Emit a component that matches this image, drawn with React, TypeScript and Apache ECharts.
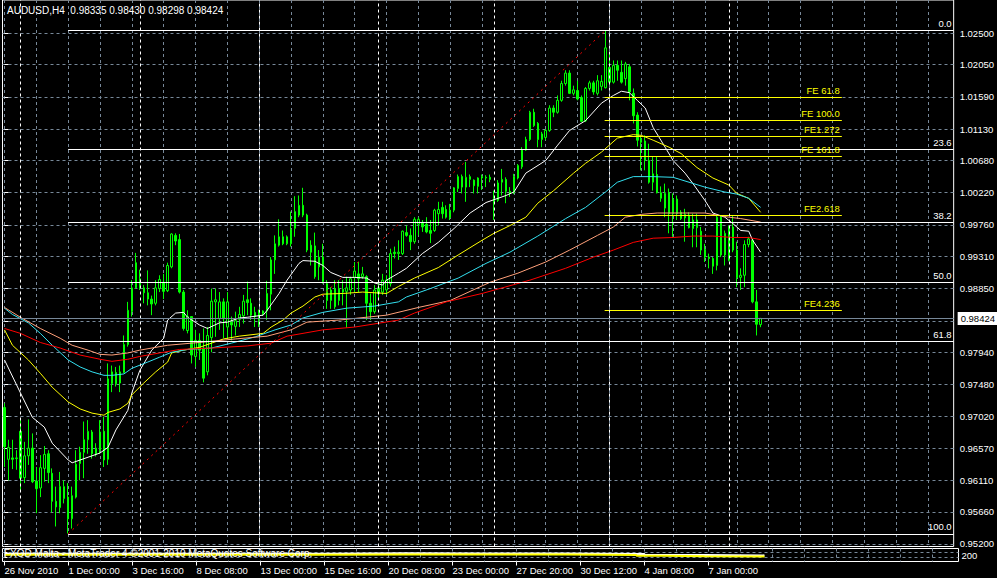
import React, { useEffect, useRef } from "react";
import * as echarts from "echarts";

// ---------- text ----------
const titleText = "AUDUSD,H4  0.98335 0.98430 0.98298 0.98424";
const subWindowText = "FXOD Malta - MetaTrader 4 \u00a92001-2010 MetaQuotes Software Corp.";
const subAxisLabel = "200";

// ---------- time axis ----------
const timeLabels = [
  "26 Nov 2010", "1 Dec 00:00", "3 Dec 16:00", "8 Dec 08:00", "13 Dec 00:00", "15 Dec 16:00",
  "20 Dec 08:00", "23 Dec 00:00", "27 Dec 20:00", "30 Dec 12:00", "4 Jan 08:00", "7 Jan 00:00",
];
const timeLabelBars = [0, 16, 32, 48, 64, 80, 96, 112, 128, 144, 160, 176];
const gridBars = [0, 8, 16, 24, 32, 40, 48, 56, 64, 72, 80, 88, 96, 104, 112, 120, 128, 136, 144, 152, 160, 168, 176, 184, 192, 200, 208, 216, 224, 232];
const weekSeparatorBars = [4, 34, 64, 94, 123, 152, 182];
const BAR_MIN = -0.5;
const BAR_MAX = 238.5;

// ---------- price axis ----------
const priceLabels = [0.952, 0.9566, 0.9611, 0.9657, 0.9702, 0.9748, 0.9794, 0.9885, 0.9931, 0.9976, 1.0022, 1.0068, 1.0113, 1.0159, 1.0205, 1.025];
const priceGrid = [0.952, 0.9566, 0.9611, 0.9657, 0.9702, 0.9748, 0.9794, 0.9839, 0.9885, 0.9931, 0.9976, 1.0022, 1.0068, 1.0113, 1.0159, 1.0205, 1.025];
const PRICE_MIN = 0.95164;
const PRICE_MAX = 1.02974;
const lastPrice = 0.98424;

// ---------- candles: [open, high, low, close] ----------
const candles: number[][] = [
  [0.9715, 0.9721, 0.9630, 0.9659], [0.9641, 0.9669, 0.9611, 0.9658], [0.9643, 0.9669, 0.9627, 0.9641], [0.9642, 0.9654, 0.9626, 0.9643],
  [0.9681, 0.9697, 0.9597, 0.9614], [0.9615, 0.9666, 0.9607, 0.9646], [0.9646, 0.9698, 0.9633, 0.9657], [0.9657, 0.9678, 0.9607, 0.9609],
  [0.9610, 0.9630, 0.9564, 0.9599], [0.9600, 0.9647, 0.9587, 0.9629], [0.9628, 0.9660, 0.9609, 0.9648], [0.9649, 0.9654, 0.9607, 0.9622],
  [0.9621, 0.9628, 0.9565, 0.9581], [0.9581, 0.9602, 0.9545, 0.9573], [0.9572, 0.9623, 0.9564, 0.9602], [0.9585, 0.9611, 0.9578, 0.9602],
  [0.9587, 0.9607, 0.9535, 0.9556], [0.9556, 0.9602, 0.9542, 0.9589], [0.9587, 0.9654, 0.9585, 0.9634], [0.9635, 0.9659, 0.9611, 0.9651],
  [0.9651, 0.9695, 0.9614, 0.9669], [0.9669, 0.9697, 0.9649, 0.9681], [0.9680, 0.9683, 0.9642, 0.9649], [0.9648, 0.9664, 0.9645, 0.9657],
  [0.9654, 0.9697, 0.9649, 0.9680], [0.9681, 0.9702, 0.9630, 0.9640], [0.9641, 0.9778, 0.9633, 0.9756], [0.9749, 0.9775, 0.9737, 0.9766],
  [0.9765, 0.9773, 0.9745, 0.9749], [0.9750, 0.9775, 0.9737, 0.9766], [0.9765, 0.9818, 0.9764, 0.9805], [0.9805, 0.9866, 0.9802, 0.9854],
  [0.9852, 0.9897, 0.9845, 0.9886], [0.9886, 0.9936, 0.9885, 0.9922], [0.9899, 0.9912, 0.9883, 0.9885], [0.9886, 0.9890, 0.9864, 0.9879],
  [0.9879, 0.9911, 0.9861, 0.9870], [0.9870, 0.9875, 0.9847, 0.9863], [0.9864, 0.9897, 0.9861, 0.9886], [0.9885, 0.9904, 0.9880, 0.9898],
  [0.9894, 0.9906, 0.9870, 0.9881], [0.9882, 0.9922, 0.9880, 0.9918], [0.9916, 0.9964, 0.9914, 0.9963], [0.9961, 0.9964, 0.9947, 0.9953],
  [0.9955, 0.9963, 0.9878, 0.9880], [0.9880, 0.9883, 0.9825, 0.9828], [0.9825, 0.9854, 0.9821, 0.9845], [0.9845, 0.9845, 0.9778, 0.9790],
  [0.9788, 0.9826, 0.9773, 0.9811], [0.9811, 0.9821, 0.9783, 0.9797], [0.9800, 0.9828, 0.9751, 0.9757], [0.9766, 0.9830, 0.9761, 0.9818],
  [0.9815, 0.9885, 0.9794, 0.9867], [0.9866, 0.9885, 0.9816, 0.9869], [0.9842, 0.9880, 0.9826, 0.9866], [0.9866, 0.9871, 0.9814, 0.9842],
  [0.9830, 0.9880, 0.9814, 0.9866], [0.9837, 0.9845, 0.9811, 0.9833], [0.9831, 0.9852, 0.9818, 0.9839], [0.9841, 0.9859, 0.9830, 0.9848],
  [0.9846, 0.9876, 0.9835, 0.9867], [0.9869, 0.9895, 0.9847, 0.9865], [0.9864, 0.9871, 0.9840, 0.9847], [0.9851, 0.9859, 0.9830, 0.9845],
  [0.9840, 0.9855, 0.9830, 0.9850], [0.9849, 0.9854, 0.9846, 0.9853], [0.9853, 0.9896, 0.9840, 0.9878], [0.9877, 0.9930, 0.9854, 0.9926],
  [0.9926, 0.9961, 0.9906, 0.9949], [0.9947, 0.9984, 0.9945, 0.9959], [0.9959, 0.9968, 0.9947, 0.9949], [0.9949, 0.9961, 0.9947, 0.9959],
  [0.9949, 0.9995, 0.9945, 0.9969], [0.9971, 1.0017, 0.9959, 0.9995], [0.9990, 1.0018, 0.9987, 1.0004], [1.0004, 1.0029, 0.9987, 0.9990],
  [0.9990, 0.9992, 0.9937, 0.9940], [0.9947, 0.9954, 0.9918, 0.9937], [0.9946, 0.9965, 0.9899, 0.9902], [0.9916, 0.9940, 0.9897, 0.9930],
  [0.9930, 0.9949, 0.9892, 0.9895], [0.9892, 0.9897, 0.9856, 0.9868], [0.9868, 0.9887, 0.9856, 0.9883], [0.9885, 0.9897, 0.9856, 0.9859],
  [0.9868, 0.9897, 0.9861, 0.9885], [0.9884, 0.9897, 0.9861, 0.9880], [0.9881, 0.9902, 0.9829, 0.9886], [0.9883, 0.9902, 0.9876, 0.9899],
  [0.9901, 0.9923, 0.9880, 0.9910], [0.9906, 0.9923, 0.9880, 0.9899], [0.9902, 0.9916, 0.9899, 0.9906], [0.9902, 0.9904, 0.9840, 0.9864],
  [0.9864, 0.9878, 0.9840, 0.9852], [0.9852, 0.9890, 0.9849, 0.9883], [0.9886, 0.9897, 0.9871, 0.9878], [0.9880, 0.9906, 0.9876, 0.9897],
  [0.9883, 0.9904, 0.9876, 0.9897], [0.9892, 0.9942, 0.9888, 0.9935], [0.9937, 0.9945, 0.9928, 0.9935], [0.9935, 0.9954, 0.9926, 0.9937],
  [0.9935, 0.9968, 0.9933, 0.9967], [0.9965, 0.9975, 0.9959, 0.9961], [0.9961, 0.9971, 0.9940, 0.9952], [0.9952, 0.9987, 0.9949, 0.9984],
  [0.9977, 0.9987, 0.9961, 0.9984], [0.9979, 0.9983, 0.9966, 0.9973], [0.9977, 0.9987, 0.9964, 0.9966], [0.9968, 0.9983, 0.9950, 0.9964],
  [0.9968, 0.9999, 0.9966, 0.9997], [0.9992, 1.0009, 0.9975, 0.9998], [1.0001, 1.0009, 0.9985, 0.9992], [0.9998, 1.0004, 0.9985, 0.9987],
  [0.9986, 1.0006, 0.9983, 0.9997], [0.9997, 1.0030, 0.9994, 1.0029], [1.0028, 1.0048, 1.0023, 1.0045], [1.0045, 1.0048, 1.0021, 1.0030],
  [1.0030, 1.0066, 1.0009, 1.0044], [1.0041, 1.0048, 1.0030, 1.0045], [1.0040, 1.0041, 1.0021, 1.0032], [1.0031, 1.0044, 1.0021, 1.0043],
  [1.0043, 1.0048, 1.0026, 1.0045], [1.0044, 1.0047, 1.0030, 1.0043], [1.0044, 1.0048, 1.0037, 1.0041], [1.0007, 1.0025, 0.9983, 1.0014],
  [1.0011, 1.0040, 1.0009, 1.0036], [1.0037, 1.0056, 1.0018, 1.0041], [1.0041, 1.0044, 1.0007, 1.0024], [1.0024, 1.0030, 1.0016, 1.0021],
  [1.0022, 1.0049, 1.0020, 1.0045], [1.0043, 1.0063, 1.0041, 1.0061], [1.0059, 1.0087, 1.0056, 1.0083], [1.0083, 1.0102, 1.0082, 1.0098],
  [1.0098, 1.0139, 1.0096, 1.0137], [1.0137, 1.0142, 1.0116, 1.0118], [1.0121, 1.0123, 1.0087, 1.0098], [1.0098, 1.0109, 1.0087, 1.0106],
  [1.0101, 1.0113, 1.0097, 1.0111], [1.0111, 1.0147, 1.0109, 1.0143], [1.0143, 1.0147, 1.0130, 1.0137], [1.0137, 1.0161, 1.0135, 1.0154],
  [1.0154, 1.0182, 1.0152, 1.0178], [1.0178, 1.0197, 1.0175, 1.0193], [1.0193, 1.0197, 1.0163, 1.0164], [1.0164, 1.0175, 1.0161, 1.0169],
  [1.0168, 1.0182, 1.0154, 1.0156], [1.0158, 1.0161, 1.0123, 1.0124], [1.0125, 1.0173, 1.0123, 1.0171], [1.0171, 1.0182, 1.0168, 1.0179],
  [1.0179, 1.0182, 1.0162, 1.0166], [1.0164, 1.0190, 1.0161, 1.0182], [1.0174, 1.0190, 1.0168, 1.0181], [1.0172, 1.0254, 1.0171, 1.0229],
  [1.0201, 1.0223, 1.0178, 1.0180], [1.0180, 1.0211, 1.0178, 1.0204], [1.0204, 1.0211, 1.0182, 1.0197], [1.0194, 1.0211, 1.0178, 1.0180],
  [1.0185, 1.0209, 1.0175, 1.0206], [1.0202, 1.0206, 1.0154, 1.0166], [1.0164, 1.0171, 1.0121, 1.0132], [1.0133, 1.0137, 1.0088, 1.0097],
  [1.0094, 1.0102, 1.0054, 1.0099], [1.0096, 1.0104, 1.0054, 1.0068], [1.0068, 1.0092, 1.0035, 1.0037], [1.0037, 1.0074, 1.0025, 1.0049],
  [1.0048, 1.0074, 1.0021, 1.0022], [1.0014, 1.0031, 1.0009, 1.0022], [1.0000, 1.0035, 0.9987, 1.0021], [1.0022, 1.0028, 0.9964, 0.9992],
  [0.9992, 1.0021, 0.9959, 1.0013], [1.0013, 1.0018, 0.9983, 0.9992], [0.9994, 0.9997, 0.9983, 0.9985], [0.9991, 0.9999, 0.9952, 0.9986],
  [0.9972, 0.9994, 0.9971, 0.9990], [0.9983, 0.9992, 0.9944, 0.9971], [0.9972, 0.9992, 0.9944, 0.9983], [0.9967, 0.9973, 0.9933, 0.9940],
  [0.9941, 0.9949, 0.9923, 0.9930], [0.9930, 0.9935, 0.9914, 0.9928], [0.9928, 0.9930, 0.9906, 0.9917], [0.9918, 0.9990, 0.9911, 0.9987],
  [0.9987, 0.9990, 0.9930, 0.9933], [0.9933, 0.9968, 0.9918, 0.9964], [0.9925, 0.9975, 0.9924, 0.9973], [0.9973, 0.9990, 0.9937, 0.9940],
  [0.9940, 0.9952, 0.9887, 0.9901], [0.9901, 0.9914, 0.9883, 0.9904], [0.9904, 0.9954, 0.9887, 0.9948], [0.9948, 0.9959, 0.9944, 0.9956],
  [0.9954, 0.9956, 0.9864, 0.9866], [0.9866, 0.9883, 0.9818, 0.9834], [0.98335, 0.98430, 0.98298, 0.98424],
];

// ---------- moving averages: [bar, price] ----------
const maWhite: number[][] = [
  [0, 0.9783], [4, 0.9736], [7, 0.9701], [10, 0.9687], [12, 0.9664], [16, 0.9640], [17, 0.9636], [21, 0.9644], [24, 0.9650],
  [26, 0.9658], [28, 0.9683], [31, 0.9711], [32, 0.9736], [34, 0.9768], [37, 0.9797], [40, 0.9814], [41, 0.9840], [43, 0.9850],
  [45, 0.9851], [46, 0.9844], [49, 0.9833], [51, 0.9828], [54, 0.9836], [56, 0.9837], [59, 0.9843], [61, 0.9844], [65, 0.9847],
  [66, 0.9854], [69, 0.9878], [71, 0.9897], [74, 0.9921], [75, 0.9925], [78, 0.9924], [80, 0.9918], [82, 0.9908], [85, 0.9901],
  [88, 0.9901], [91, 0.9900], [93, 0.9893], [95, 0.9890], [96, 0.9897], [99, 0.9907], [101, 0.9914], [105, 0.9935], [109, 0.9951],
  [113, 0.9971], [117, 0.9993], [121, 1.0008], [126, 1.0018], [128, 1.0023], [131, 1.0050], [136, 1.0068], [139, 1.0090],
  [142, 1.0111], [146, 1.0125], [150, 1.0150], [153, 1.0161], [155, 1.0167], [157, 1.0165], [159, 1.0154], [161, 1.0143],
  [163, 1.0115], [166, 1.0087], [168, 1.0068], [171, 1.0050], [173, 1.0035], [176, 1.0011], [178, 0.9993], [181, 0.9987],
  [183, 0.9978], [185, 0.9968], [187, 0.9967], [188, 0.9954], [190, 0.9937],
];
const maYellow: number[][] = [
  [0, 0.9826], [2, 0.9804], [6, 0.9783], [9, 0.9764], [12, 0.9744], [16, 0.9723], [19, 0.9713], [22, 0.9707], [25, 0.9704],
  [26, 0.9708], [29, 0.9713], [31, 0.9721], [32, 0.9733], [35, 0.9750], [38, 0.9766], [41, 0.9780], [42, 0.9793], [45, 0.9797],
  [46, 0.9798], [49, 0.9801], [55, 0.9813], [59, 0.9817], [65, 0.9821], [67, 0.9830], [70, 0.9840], [72, 0.9850], [75, 0.9860],
  [78, 0.9873], [80, 0.9877], [85, 0.9878], [90, 0.9880], [96, 0.9878], [99, 0.9888], [103, 0.9900], [109, 0.9915],
  [114, 0.9933], [120, 0.9954], [123, 0.9964], [127, 0.9975], [131, 0.9987], [134, 1.0007], [138, 1.0025], [143, 1.0050],
  [146, 1.0064], [150, 1.0080], [154, 1.0100], [158, 1.0105], [160, 1.0104], [163, 1.0097], [167, 1.0087], [170, 1.0078],
  [174, 1.0058], [178, 1.0043], [182, 1.0033], [184, 1.0021], [187, 1.0014], [190, 0.9994],
];
const maCyan: number[][] = [
  [0, 0.9857], [2, 0.9848], [6, 0.9836], [9, 0.9821], [12, 0.9804], [16, 0.9783], [19, 0.9773], [22, 0.9766], [25, 0.9761],
  [27, 0.9761], [30, 0.9763], [32, 0.9771], [36, 0.9780], [39, 0.9787], [42, 0.9794], [46, 0.9798], [52, 0.9800], [57, 0.9807],
  [63, 0.9816], [68, 0.9826], [72, 0.9833], [75, 0.9843], [80, 0.9851], [86, 0.9857], [93, 0.9860], [99, 0.9866], [101, 0.9873],
  [107, 0.9885], [114, 0.9900], [121, 0.9921], [127, 0.9937], [134, 0.9960], [141, 0.9985], [146, 1.0001], [151, 1.0023],
  [154, 1.0037], [158, 1.0045], [163, 1.0045], [168, 1.0044], [172, 1.0037], [176, 1.0030], [181, 1.0023], [184, 1.0020],
  [187, 1.0014], [190, 1.0001],
];
const maSalmon: number[][] = [
  [0, 0.9858], [4, 0.9844], [9, 0.9828], [14, 0.9814], [17, 0.9804], [21, 0.9797], [24, 0.9791], [27, 0.9790], [31, 0.9793],
  [34, 0.9797], [41, 0.9804], [49, 0.9808], [58, 0.9813], [66, 0.9817], [72, 0.9826], [76, 0.9837], [84, 0.9840], [96, 0.9847],
  [104, 0.9858], [112, 0.9868], [122, 0.9894], [129, 0.9907], [136, 0.9923], [142, 0.9940], [149, 0.9961], [153, 0.9973],
  [156, 0.9987], [160, 0.9991], [164, 0.9993], [169, 0.9993], [176, 0.9993], [182, 0.9987], [185, 0.9985], [190, 0.9980],
];
const maRed: number[][] = [
  [0, 0.9828], [4, 0.9821], [9, 0.9808], [14, 0.9800], [19, 0.9790], [24, 0.9784], [27, 0.9781], [31, 0.9784], [34, 0.9788],
  [39, 0.9793], [44, 0.9798], [52, 0.9800], [61, 0.9803], [67, 0.9807], [71, 0.9817], [80, 0.9826], [88, 0.9830], [99, 0.9840],
  [103, 0.9850], [111, 0.9866], [120, 0.9878], [132, 0.9897], [141, 0.9914], [148, 0.9930], [153, 0.9940], [158, 0.9951],
  [163, 0.9957], [168, 0.9958], [173, 0.9960], [178, 0.9960], [183, 0.9958], [187, 0.9958], [190, 0.9955],
];

// ---------- Fibonacci objects ----------
const fibLowBar = 16;
const fibHighBar = 151;
const fibLow = 0.95345;
const fibHigh = 1.0254;
const fibRatios = [0, 23.6, 38.2, 50, 61.8, 100];
const feLabels = ["FE 61.8", "FE 100.0", "FE1.272", "FE 161.8", "FE2.618", "FE4.236"];
const feLevels = [1.01586, 1.01254, 1.01025, 1.00735, 0.99893, 0.98541];
const feStartBar = 150.8;
const feEndBar = 210.4;

// ---------- sub window indicator ----------
const subWhite: number[][] = [
  [0, 60], [60, 60], [80, 63], [100, 62], [120, 62], [140, 60], [150, 57], [160, 50], [175, 47], [190, 47],
];
const subYellow: number[][] = [
  [0, 52], [20, 52], [40, 51], [60, 51], [80, 53], [100, 53], [120, 53], [140, 52], [150, 50], [158, 44], [165, 40], [175, 38], [190, 38],
];

const FONT = "Liberation Sans, Arial, sans-serif";

export default function App() {
  const ref = useRef<HTMLDivElement>(null);
  useEffect(() => {
    if (!ref.current) return;
    const chart = echarts.init(ref.current, undefined, { renderer: "svg" });

    const candleData = candles.map((c, i) => [i, c[0], c[3], c[2], c[1]]);
    const fibRange = fibHigh - fibLow;

    const markData: any[] = [];
    fibRatios.forEach((r) => {
      const v = fibHigh - (r / 100) * fibRange;
      markData.push([
        {
          coord: [fibLowBar, v],
          lineStyle: { color: "#ffffff", type: "solid", width: 1 },
          label: { show: true, position: "insideEndTop", formatter: r.toFixed(1), color: "#ffffff", fontSize: 9.5, fontFamily: FONT, distance: 2 },
        },
        { coord: [BAR_MAX, v] },
      ]);
    });
    feLevels.forEach((v, k) => {
      markData.push([
        {
          coord: [feStartBar, v],
          lineStyle: { color: "#ffff00", type: "solid", width: 1 },
          label: { show: true, position: "insideEndTop", formatter: feLabels[k], color: "#ffff00", fontSize: 9.5, fontFamily: FONT, distance: 2 },
        },
        { coord: [feEndBar, v] },
      ]);
    });
    markData.push([
      { coord: [fibLowBar, fibLow], lineStyle: { color: "#ff0000", type: [2, 4], width: 1 }, label: { show: false } },
      { coord: [fibHighBar, fibHigh] },
    ]);
    weekSeparatorBars.forEach((b) => {
      markData.push({ xAxis: b, lineStyle: { color: "#ffffff", type: [3, 3], width: 1 }, label: { show: false } });
    });
    markData.push({
      yAxis: lastPrice,
      lineStyle: { color: "#778899", type: "solid", width: 1 },
      label: {
        show: true,
        position: "end",
        formatter: lastPrice.toFixed(5),
        color: "#000000",
        backgroundColor: "#ffffff",
        padding: [2, 4, 1, 3],
        fontSize: 9.5,
        fontFamily: FONT,
        distance: 4,
      },
    });

    const maSeries = (name: string, data: number[][], color: string) => ({
      name,
      type: "line",
      xAxisIndex: 0,
      yAxisIndex: 0,
      data,
      showSymbol: false,
      symbol: "none",
      lineStyle: { color, width: 1 },
      silent: true,
      z: 3,
    });

    const option: any = {
      animation: false,
      backgroundColor: "#000000",
      grid: [
        { left: 2.5, right: 38.5, top: -0.5, height: 547, show: true, borderColor: "#ffffff", borderWidth: 1, backgroundColor: "transparent" },
        { left: 2.5, right: 38.5, top: 548.5, height: 13, show: true, borderColor: "#ffffff", borderWidth: 1, backgroundColor: "transparent" },
      ],
      xAxis: [
        {
          type: "value", gridIndex: 0, min: BAR_MIN, max: BAR_MAX,
          axisLine: { show: false }, axisTick: { show: false, customValues: gridBars }, axisLabel: { show: false },
          splitLine: { show: true, lineStyle: { color: "#778899", type: [3, 3], width: 1 } },
        },
        {
          type: "value", gridIndex: 1, min: BAR_MIN, max: BAR_MAX,
          axisLine: { show: false }, axisTick: { show: false, customValues: gridBars }, axisLabel: { show: false },
          splitLine: { show: true, lineStyle: { color: "#778899", type: [3, 3], width: 1 } },
        },
        {
          type: "value", gridIndex: 1, min: BAR_MIN, max: BAR_MAX, position: "bottom",
          axisLine: { show: false },
          axisTick: { show: true, customValues: timeLabelBars, length: 4, lineStyle: { color: "#ffffff" } },
          axisLabel: {
            show: true, customValues: timeLabelBars, color: "#ffffff", fontSize: 9.5, fontFamily: FONT, align: "left", margin: 4,
            formatter: (v: number) => {
              const k = timeLabelBars.indexOf(Math.round(v));
              return k >= 0 ? timeLabels[k] : "";
            },
          },
          splitLine: { show: false },
        },
      ],
      yAxis: [
        {
          type: "value", gridIndex: 0, position: "right", min: PRICE_MIN, max: PRICE_MAX,
          axisLine: { show: false },
          axisTick: { show: true, customValues: priceGrid, length: 4, lineStyle: { color: "#ffffff" } },
          axisLabel: {
            show: true, customValues: priceLabels, color: "#ffffff", fontSize: 9.5, fontFamily: FONT, margin: 6,
            formatter: (v: number) => v.toFixed(5),
          },
          splitLine: { show: true, lineStyle: { color: "#778899", type: [3, 3], width: 1 } },
        },
        {
          type: "value", gridIndex: 1, position: "right", min: 0, max: 100,
          axisLine: { show: false },
          axisTick: { show: true, customValues: [30, 75], length: 3, lineStyle: { color: "#ffffff" } },
          axisLabel: {
            show: true, customValues: [45], color: "#ffffff", fontSize: 9.5, fontFamily: FONT, margin: 3,
            formatter: () => subAxisLabel,
          },
          splitLine: { show: true, lineStyle: { color: "#778899", type: [3, 3], width: 1 } },
        },
      ],
      series: [
        {
          name: "AUDUSD",
          type: "candlestick",
          xAxisIndex: 0,
          yAxisIndex: 0,
          data: candleData,
          encode: { x: 0, y: [1, 2, 3, 4] },
          barWidth: 2,
          silent: true,
          itemStyle: {
            color: "#000000",
            color0: "#00ff00",
            borderColor: "#00ff00",
            borderColor0: "#00ff00",
            borderColorDoji: "#00ff00",
            borderWidth: 1,
          },
          z: 2,
        },
        maSeries("MA white", maWhite, "#ffffff"),
        maSeries("MA yellow", maYellow, "#ffff00"),
        maSeries("MA cyan", maCyan, "#33e0f0"),
        maSeries("MA salmon", maSalmon, "#ffa07a"),
        maSeries("MA red", maRed, "#ff0000"),
        {
          name: "objects",
          type: "line",
          xAxisIndex: 0,
          yAxisIndex: 0,
          data: [],
          clip: false,
          silent: true,
          z: 4,
          markLine: { symbol: ["none", "none"], silent: true, animation: false, precision: 5, data: markData },
        },
        {
          name: "sub white",
          type: "line",
          xAxisIndex: 1,
          yAxisIndex: 1,
          data: subWhite,
          showSymbol: false,
          symbol: "none",
          step: "end",
          lineStyle: { color: "#ffffff", width: 2 },
          silent: true,
          z: 2,
        },
        {
          name: "sub yellow",
          type: "line",
          xAxisIndex: 1,
          yAxisIndex: 1,
          data: subYellow,
          showSymbol: false,
          symbol: "none",
          step: "end",
          lineStyle: { color: "#ffff00", width: 2 },
          silent: true,
          z: 3,
        },
      ],
      graphic: [
        { type: "text", left: 7, top: 5, style: { text: titleText, fill: "#ffffff", font: `10px ${FONT}` }, z: 10 },
        { type: "text", left: 4, top: 548, style: { text: subWindowText, fill: "#ffffff", font: `10px ${FONT}` }, z: 10 },
      ],
    };
    chart.setOption(option);
    return () => chart.dispose();
  }, []);

  return (
    <div
      ref={ref}
      style={{ position: "fixed", left: 0, top: 0, width: 997, height: 578, background: "#000000" }}
    />
  );
}
